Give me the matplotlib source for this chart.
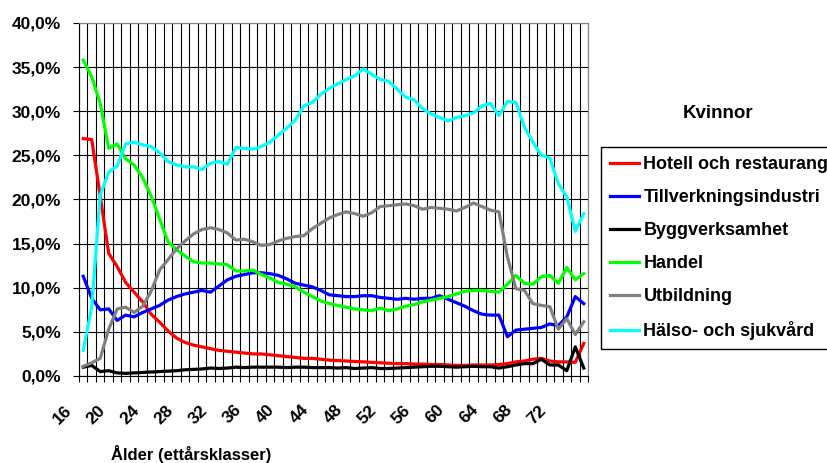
import numpy as np
import matplotlib
matplotlib.use("Agg")
import matplotlib.pyplot as plt
import matplotlib.transforms as mtransforms
from matplotlib.ticker import FuncFormatter

plt.rcParams["font.family"] = ["Liberation Sans", "DejaVu Sans"]
plt.rcParams["font.weight"] = "bold"

ages = list(range(16, 76))

hotell = [26.9, 26.8, 20.4, 13.9, 12.4, 10.6, 9.5, 8.4, 7.0, 6.1,
          5.1, 4.3, 3.8, 3.5, 3.3, 3.1, 2.9, 2.8, 2.7, 2.6,
          2.5, 2.5, 2.4, 2.3, 2.2, 2.1, 2.0, 2.0, 1.9, 1.8,
          1.75, 1.7, 1.65, 1.6, 1.55, 1.5, 1.45, 1.4, 1.4, 1.35,
          1.35, 1.3, 1.3, 1.25, 1.2, 1.2, 1.25, 1.25, 1.25, 1.3,
          1.4, 1.6, 1.7, 1.9, 2.0, 1.7, 1.6, 1.6, 1.55, 3.7]
tillverkning = [11.3, 8.8, 7.5, 7.6, 6.3, 6.9, 6.7, 7.2, 7.6, 8.0,
                8.6, 9.0, 9.3, 9.5, 9.7, 9.5, 10.2, 10.9, 11.3, 11.5,
                11.7, 11.7, 11.6, 11.4, 11.0, 10.5, 10.3, 10.1, 9.7, 9.2,
                9.1, 9.0, 9.0, 9.1, 9.1, 8.9, 8.8, 8.7, 8.8, 8.7,
                8.8, 8.8, 9.1, 8.7, 8.3, 7.9, 7.4, 7.0, 6.9, 6.9,
                4.45, 5.2, 5.3, 5.4, 5.5, 5.9, 5.7, 6.7, 9.0, 8.2]
bygg = [1.0, 1.2, 0.5, 0.6, 0.35, 0.3, 0.35, 0.4, 0.45, 0.5,
        0.55, 0.6, 0.7, 0.75, 0.8, 0.9, 0.85, 0.9, 1.0, 0.95,
        1.0, 1.0, 1.0, 1.0, 0.95, 1.0, 1.0, 0.95, 0.95, 0.95,
        0.9, 0.95, 0.85, 0.9, 0.95, 0.85, 0.85, 0.9, 0.95, 1.0,
        1.05, 1.1, 1.1, 1.05, 1.0, 1.05, 1.1, 1.05, 1.05, 0.9,
        1.05, 1.25, 1.4, 1.4, 1.9, 1.25, 1.25, 0.6, 3.3, 0.9]
handel = [35.8, 33.9, 30.9, 25.8, 26.3, 24.6, 23.9, 22.5, 20.4, 17.8,
          15.2, 14.3, 13.6, 12.95, 12.8, 12.8, 12.7, 12.6, 11.9, 11.9,
          12.0, 11.5, 11.1, 10.6, 10.4, 10.1, 9.5, 9.0, 8.5, 8.2,
          8.0, 7.8, 7.6, 7.5, 7.4, 7.7, 7.4, 7.6, 7.9, 8.1,
          8.4, 8.6, 8.8, 9.0, 9.3, 9.6, 9.7, 9.7, 9.6, 9.5,
          10.4, 11.4, 10.5, 10.4, 11.25, 11.4, 10.5, 12.3, 10.9, 11.6]
utbildning = [1.1, 1.5, 2.0, 5.3, 7.6, 7.8, 7.2, 7.9, 9.6, 12.0,
              13.2, 14.4, 15.3, 16.1, 16.6, 16.8, 16.6, 16.2, 15.4, 15.5,
              15.2, 14.8, 14.9, 15.3, 15.6, 15.8, 15.9, 16.7, 17.3, 17.9,
              18.3, 18.6, 18.4, 18.1, 18.5, 19.2, 19.3, 19.4, 19.5, 19.3,
              18.9, 19.1, 19.0, 18.9, 18.7, 19.1, 19.6, 19.2, 18.8, 18.6,
              13.5, 9.9, 9.7, 8.2, 8.0, 7.85, 5.3, 6.5, 4.7, 6.15]
halso = [2.9, 7.8, 20.5, 23.1, 23.8, 26.3, 26.5, 26.2, 26.0, 25.3,
         24.3, 23.9, 23.7, 23.7, 23.4, 24.1, 24.3, 24.0, 25.9, 25.8,
         25.7, 26.0, 26.5, 27.3, 28.1, 29.0, 30.6, 31.0, 31.9, 32.6,
         33.1, 33.6, 34.0, 34.8, 34.2, 33.6, 33.4, 32.5, 31.6, 31.3,
         30.3, 29.7, 29.3, 28.9, 29.3, 29.5, 29.8, 30.6, 30.9, 29.5,
         31.1, 31.0, 28.2, 26.5, 25.0, 24.7, 21.8, 20.3, 16.4, 18.4]

series = [
    ("Hotell och restaurang", hotell, "#ff0000"),
    ("Tillverkningsindustri", tillverkning, "#0000ff"),
    ("Byggverksamhet", bygg, "#000000"),
    ("Handel", handel, "#00ff00"),
    ("Utbildning", utbildning, "#808080"),
    ("Hälso- och sjukvård", halso, "#00ffff"),
]

fig = plt.figure(figsize=(8.27, 4.63), dpi=100)
ax = fig.add_axes([79 / 827, 87 / 463, 509 / 827, 353 / 463])

x = np.arange(len(ages))
for name, vals, color in series:
    ax.plot(x, vals, color=color, lw=2.3, label=name, solid_joinstyle="round")

ax.set_xlim(-0.5, len(ages) - 0.5)
ax.set_ylim(0, 40)
ax.set_yticks(np.arange(0, 41, 5))
ax.yaxis.set_major_formatter(FuncFormatter(lambda v, p: f"{v:.1f}%".replace(".", ",")))

# category boundaries carry the grid and tick marks, labels sit on every 4th age
ax.set_xticks(np.arange(-0.5, len(ages)), minor=True)
ax.set_xticks(x[::4])
ax.set_xticklabels([str(a) for a in ages[::4]])
ax.grid(axis="y", color="black", lw=0.8)
ax.grid(axis="x", which="minor", color="black", lw=0.8)

ax.tick_params(axis="y", direction="out", length=4.3, width=0.8, pad=8.6, labelsize=12.5)
ax.tick_params(axis="x", which="minor", direction="out", length=4.3, width=0.8)
ax.tick_params(axis="x", which="major", length=0, pad=19, labelsize=12.5, labelrotation=45)
off = mtransforms.ScaledTranslation(-0.09, 0, fig.dpi_scale_trans)
for lab in ax.get_xticklabels():
    lab.set_ha("right")
    lab.set_transform(lab.get_transform() + off)

for side in ("left", "bottom"):
    ax.spines[side].set_color("black")
for side in ("top", "right"):
    ax.spines[side].set_color("#808080")

ax.legend(loc="upper left", bbox_to_anchor=(601 / 827, 1 - 147 / 463),
          bbox_transform=fig.transFigure, frameon=True, fancybox=False,
          edgecolor="black", framealpha=1, prop=dict(weight="bold", size=13),
          handlelength=1.6, handletextpad=0.25, labelspacing=0.89, borderpad=0.5,
          borderaxespad=0)

fig.text(718 / 827, 1 - 114 / 463, "Kvinnor", ha="center", va="center",
         fontsize=13.5, fontweight="bold")
fig.text(191 / 827, 1 - 454 / 463, "Ålder (ettårsklasser)", ha="center", va="center",
         fontsize=12, fontweight="bold")

fig.savefig("out.png", dpi=100)
